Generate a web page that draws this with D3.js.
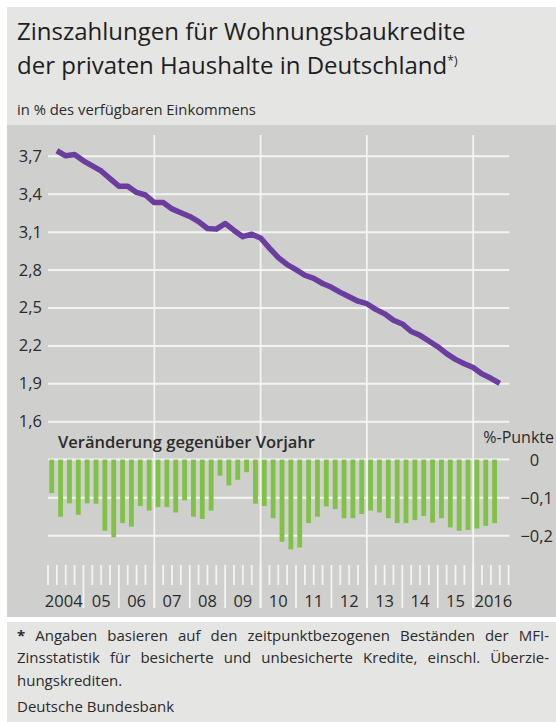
<!DOCTYPE html>
<meta charset="utf-8">
<script src="https://d3js.org/d3.v7.min.js"></script>
<style>
  body { margin: 0; background: #fff; }
  svg { display: block; font-family: "Open Sans", "Noto Sans", sans-serif; }
</style>
<body>
<div id="chart"></div>
<script>

// year labels on the time axis (quarterly data, 2004 Q1 .. 2016 Q3)
var years = [2004, 2005, 2006, 2007, 2008, 2009, 2010, 2011, 2012, 2013, 2014, 2015, 2016];
var yearLabels = ["2004", "05", "06", "07", "08", "09", "10", "11", "12", "13", "14", "15", "2016"];
var yTicks = [1.6, 1.9, 2.2, 2.5, 2.8, 3.1, 3.4, 3.7];
var barTicks = [0, -0.1, -0.2];

// interest payments in % of disposable income, end of each quarter
var payments = [
  3.74, 3.70, 3.71, 3.66, 3.62, 3.58, 3.52, 3.46, 3.46, 3.41,
  3.39, 3.33, 3.33, 3.28, 3.25, 3.22, 3.18, 3.125, 3.12, 3.165,
  3.11, 3.06, 3.08, 3.05, 2.97, 2.895, 2.84, 2.80, 2.755, 2.73,
  2.69, 2.66, 2.62, 2.585, 2.55, 2.53, 2.485, 2.45, 2.40, 2.37,
  2.31, 2.28, 2.235, 2.19, 2.135, 2.09, 2.055, 2.025, 1.975, 1.94,
  1.90
];

// change against previous year, percentage points
var changes = [
  -0.088, -0.150, -0.115, -0.145, -0.115, -0.116, -0.187, -0.204, -0.167, -0.176,
  -0.122, -0.134, -0.125, -0.125, -0.139, -0.107, -0.150, -0.156, -0.134, -0.042,
  -0.068, -0.053, -0.033, -0.116, -0.122, -0.154, -0.216, -0.236, -0.231, -0.167,
  -0.150, -0.123, -0.130, -0.154, -0.154, -0.143, -0.134, -0.139, -0.154, -0.167,
  -0.167, -0.159, -0.148, -0.166, -0.154, -0.178, -0.187, -0.185, -0.181, -0.174,
  -0.167
];

var footLines = [
  "Angaben basieren auf den zeitpunktbezogenen Beständen der MFI-",
  "Zinsstatistik für besicherte und unbesicherte Kredite, einschl. Überzie-",
  "hungskrediten."
];

var W = 556, H = 722;
var left = 48, right = 509.3;
var gridColor = "#f4f4f3", textColor = "#2b2b2b";

var svg = d3.select("#chart").append("svg")
  .attr("width", W)
  .attr("height", H);

// background panels
svg.append("rect").attr("x", 7).attr("y", 7).attr("width", W - 7).attr("height", 118).attr("fill", "#e5e5e4");
svg.append("rect").attr("x", 7).attr("y", 125).attr("width", W - 7).attr("height", 492).attr("fill", "#cfcfcd");
svg.append("rect").attr("x", 7).attr("y", 622).attr("width", W - 7).attr("height", 100).attr("fill", "#e5e5e4");

// title
svg.append("text").attr("x", 17).attr("y", 39.5)
  .attr("font-size", 24).attr("fill", "#1e1e1e")
  .text("Zinszahlungen für Wohnungsbaukredite");
var t2 = svg.append("text").attr("x", 17).attr("y", 74)
  .attr("font-size", 24).attr("fill", "#1e1e1e")
  .text("der privaten Haushalte in Deutschland");
t2.append("tspan").attr("dx", 0).attr("dy", -9).attr("font-size", 12).text("*)");

svg.append("text").attr("x", 17).attr("y", 115)
  .attr("font-size", 14.8).attr("fill", textColor)
  .text("in % des verfügbaren Einkommens");

// scales: x in quarters since 2004 Q1
var x = d3.scaleLinear().domain([0, years.length * 4]).range([left, 508.6]);
var y = d3.scaleLinear().domain([1.6, 3.7]).range([421.3, 155.8]);
var yb = d3.scaleLinear().domain([-0.2, 0]).range([535.7, 459.6]);

var fmt = function (d) { return d === 0 ? "0" : d3.format(".1f")(d).replace(".", ","); };

// horizontal grid + labels, upper panel
var gy = svg.append("g")
  .attr("transform", "translate(" + left + ",0)")
  .call(d3.axisLeft(y).tickValues(yTicks).tickSize(-(right - left)).tickPadding(6).tickFormat(fmt));
gy.select(".domain").remove();
gy.attr("font-family", null).attr("font-size", 16.5);
gy.selectAll(".tick line").attr("stroke", gridColor).attr("stroke-width", 2);
gy.selectAll(".tick text").attr("fill", textColor).attr("dy", "0.33em");

// horizontal grid, lower panel
svg.append("g")
  .selectAll("line")
  .data(barTicks)
  .join("line")
  .attr("x1", left).attr("x2", right)
  .attr("y1", function (d) { return yb(d); })
  .attr("y2", function (d) { return yb(d); })
  .attr("stroke", gridColor).attr("stroke-width", 2);

// vertical grid every three years
svg.append("g")
  .selectAll("line")
  .data([12, 24, 36, 48])
  .join("line")
  .attr("x1", function (d) { return x(d); })
  .attr("x2", function (d) { return x(d); })
  .attr("y1", 135).attr("y2", 608)
  .attr("stroke", gridColor).attr("stroke-width", 1.8);

// quarter ticks, longer at year boundaries
svg.append("g")
  .selectAll("line")
  .data(d3.range(0, years.length * 4 + 1))
  .join("line")
  .attr("x1", function (d) { return x(d); })
  .attr("x2", function (d) { return x(d); })
  .attr("y1", 565)
  .attr("y2", function (d) { return (d % 4 === 0 && d > 0 && d < years.length * 4) ? 608 : 585; })
  .attr("stroke", gridColor).attr("stroke-width", 1.8);

// year labels
svg.append("g")
  .selectAll("text")
  .data(yearLabels)
  .join("text")
  .attr("x", function (d, i) { return x(i * 4 + 2); })
  .attr("dx", function (d, i) { return i === 0 ? -2 : (i === yearLabels.length - 1 ? 2.5 : 0); })
  .attr("y", 607)
  .attr("text-anchor", "middle")
  .attr("font-size", 16.5)
  .attr("fill", textColor)
  .text(function (d) { return d; });

// bars: change on year
svg.append("g")
  .selectAll("rect")
  .data(changes)
  .join("rect")
  .attr("x", function (d, i) { return x(i + 0.42) - 2.4; })
  .attr("width", 4.8)
  .attr("y", yb(0))
  .attr("height", function (d) { return yb(d) - yb(0); })
  .attr("fill", "#7fc245");

// line: interest payments
svg.append("path")
  .datum(payments)
  .attr("fill", "none")
  .attr("stroke", "#6a3d9e")
  .attr("stroke-width", 5.5)
  .attr("stroke-linejoin", "round")
  .attr("d", d3.line()
    .x(function (d, i) { return x(i + 1); })
    .y(function (d) { return y(d); })
  );

// lower panel texts
svg.append("text").attr("x", 58).attr("y", 447.5)
  .attr("font-size", 16.5).attr("font-weight", 600).attr("fill", textColor)
  .text("Veränderung gegenüber Vorjahr");
svg.append("text").attr("x", 554).attr("y", 443)
  .attr("text-anchor", "end").attr("font-size", 16).attr("fill", textColor)
  .text("%-Punkte");

var blab = svg.append("g")
  .selectAll("text")
  .data(barTicks)
  .join("text")
  .attr("x", 553)
  .attr("y", function (d) { return yb(d); })
  .attr("dy", "0.36em")
  .attr("text-anchor", "end")
  .attr("font-size", 16.5)
  .attr("fill", textColor)
  .text(fmt);
// line the zero up with the zeros of the negative labels
var neg = blab.filter(function (d) { return d < 0; }).node();
blab.filter(function (d) { return d === 0; })
  .attr("x", 553 - neg.getSubStringLength(2, 2));

// footnote, first two lines justified
var foot = svg.append("g").attr("font-size", 15).attr("fill", textColor);
foot.selectAll("text")
  .data(footLines)
  .join("text")
  .attr("x", 17)
  .attr("y", function (d, i) { return 640.5 + i * 22.7; })
  .each(function (d, i) {
    var t = d3.select(this);
    if (i === 0) t.append("tspan").attr("font-weight", 700).text("* ");
    t.append("tspan").text(d);
    if (i < 2) {
      var spaces = (i === 0 ? "* " + d : d).split(" ").length - 1;
      var extra = (549 - 17 - this.getComputedTextLength()) / spaces;
      t.attr("word-spacing", extra);
    }
  });
foot.append("text").attr("x", 17).attr("y", 711.5).text("Deutsche Bundesbank");

</script>
</body>
